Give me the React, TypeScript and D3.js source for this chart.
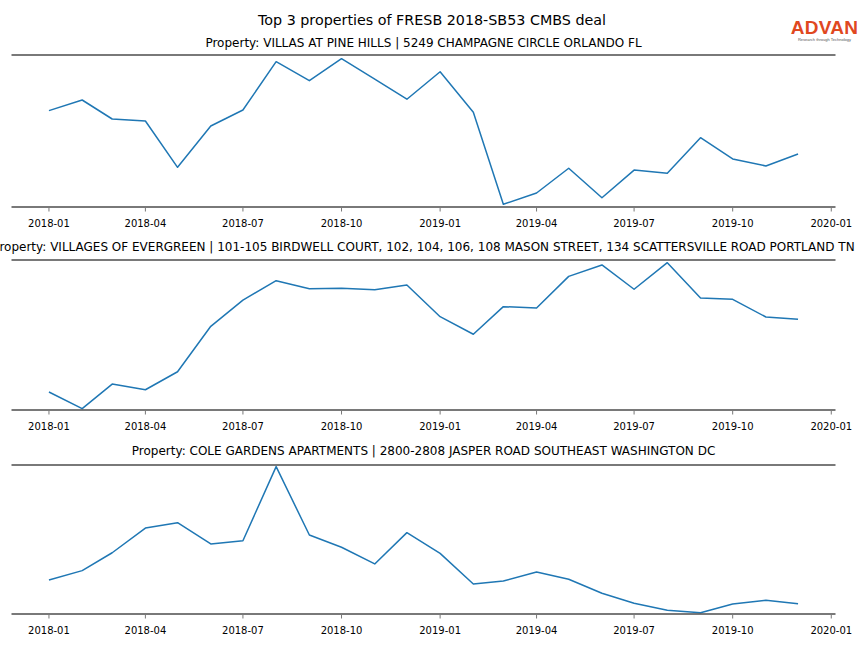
import React from "react";
import * as d3 from "d3";

const months: string[] = [
  "2018-01","2018-02","2018-03","2018-04","2018-05","2018-06","2018-07","2018-08","2018-09","2018-10","2018-11","2018-12",
  "2019-01","2019-02","2019-03","2019-04","2019-05","2019-06","2019-07","2019-08","2019-09","2019-10","2019-11","2019-12",
];

const villas: number[] = [63.4,70.4,57.9,56.6,26.1,53.3,63.8,95.6,83.1,97.6,84.2,70.9,89.0,62.3,1.8,9.2,25.5,6.1,24.3,22.2,45.6,31.6,27.0,34.9];
const villages: number[] = [12.0,0.9,17.3,13.5,25.5,55.8,73.3,86.2,80.9,81.1,80.2,83.3,62.2,50.5,68.9,68.0,89.1,96.7,80.5,98.2,74.7,73.8,62.0,60.5];
const cole: number[] = [22.8,29.1,41.1,57.7,61.3,47.0,49.2,98.9,53.0,44.8,33.6,54.6,40.7,20.1,22.1,28.2,23.3,13.9,7.2,2.5,0.9,6.7,9.2,6.9];

const titles: string[] = [
  "Property: VILLAS AT PINE HILLS | 5249 CHAMPAGNE CIRCLE ORLANDO FL",
  "Property: VILLAGES OF EVERGREEN | 101-105 BIRDWELL COURT, 102, 104, 106, 108 MASON STREET, 134 SCATTERSVILLE ROAD PORTLAND TN",
  "Property: COLE GARDENS APARTMENTS | 2800-2808 JASPER ROAD SOUTHEAST WASHINGTON DC",
];
const seriesList: number[][] = [villas, villages, cole];
const tickLabels: string[] = ["2018-01","2018-04","2018-07","2018-10","2019-01","2019-04","2019-07","2019-10","2020-01"];

const W = 864, H = 648;
const left = 11.5, right = 835.5;
const panels = [
  { top: 55, bottom: 207, titleY: 46.5 },
  { top: 260, bottom: 410, titleY: 250.5 },
  { top: 465, bottom: 614, titleY: 454.5 },
];

const parse = (s: string) => {
  const [y, m] = s.split("-").map(Number);
  return new Date(Date.UTC(y, m - 1, 1));
};

const FONT = "DejaVu Sans, sans-serif";

export default function App() {
  const dates = months.map(parse);
  const d0 = +dates[0], d1 = +dates[dates.length - 1];
  const pad = (d1 - d0) * 0.05;
  const x = d3.scaleUtc().domain([new Date(d0 - pad), new Date(d1 + pad)]).range([left, right]);
  const ticks = tickLabels.map(parse);

  return (
    <svg width={W} height={H} style={{ position: "absolute", left: 0, top: 0, background: "#fff" }} fontFamily={FONT}>
      <rect width={W} height={H} fill="#fff" />
      <text x={432} y={25} textAnchor="middle" fontSize={14.3} fill="#000">Top 3 properties of FRESB 2018-SB53 CMBS deal</text>
      <g>
        <text x={824.5} y={33.5} textAnchor="middle" fontSize={19} fontWeight="bold" fill="#e0481f" fontFamily="Liberation Sans, Arial, sans-serif" letterSpacing={0.3}>ADVAN</text>
        <text x={824.5} y={40.5} textAnchor="middle" fontSize={4} fill="#555" fontFamily="Liberation Sans, Arial, sans-serif">Research through Technology</text>
      </g>
      {panels.map((p, i) => {
        const y = d3.scaleLinear().domain([0, 100]).range([p.bottom, p.top]);
        const line = d3.line<number>().x((_, j) => x(dates[j])).y((v) => y(v));
        const data = seriesList[i];
        return (
          <g key={i}>
            <text x={(left + right) / 2} y={p.titleY} textAnchor="middle" fontSize={12} fill="#000">{titles[i]}</text>
            <path d={line(data) || ""} fill="none" stroke="#1f77b4" strokeWidth={1.5} strokeLinejoin="round" />
            <line x1={left} x2={right} y1={p.top} y2={p.top} stroke="#4d4d4d" strokeWidth={1.7} />
            <line x1={left} x2={right} y1={p.bottom} y2={p.bottom} stroke="#4d4d4d" strokeWidth={1.7} />
            {ticks.map((t, k) => (
              <g key={k} transform={`translate(${x(t)},${p.bottom})`}>
                <line y1={1} y2={4.5} stroke="#555" strokeWidth={0.8} />
                <text y={19.5} textAnchor="middle" fontSize={10} fill="#000">{tickLabels[k]}</text>
              </g>
            ))}
          </g>
        );
      })}
    </svg>
  );
}
